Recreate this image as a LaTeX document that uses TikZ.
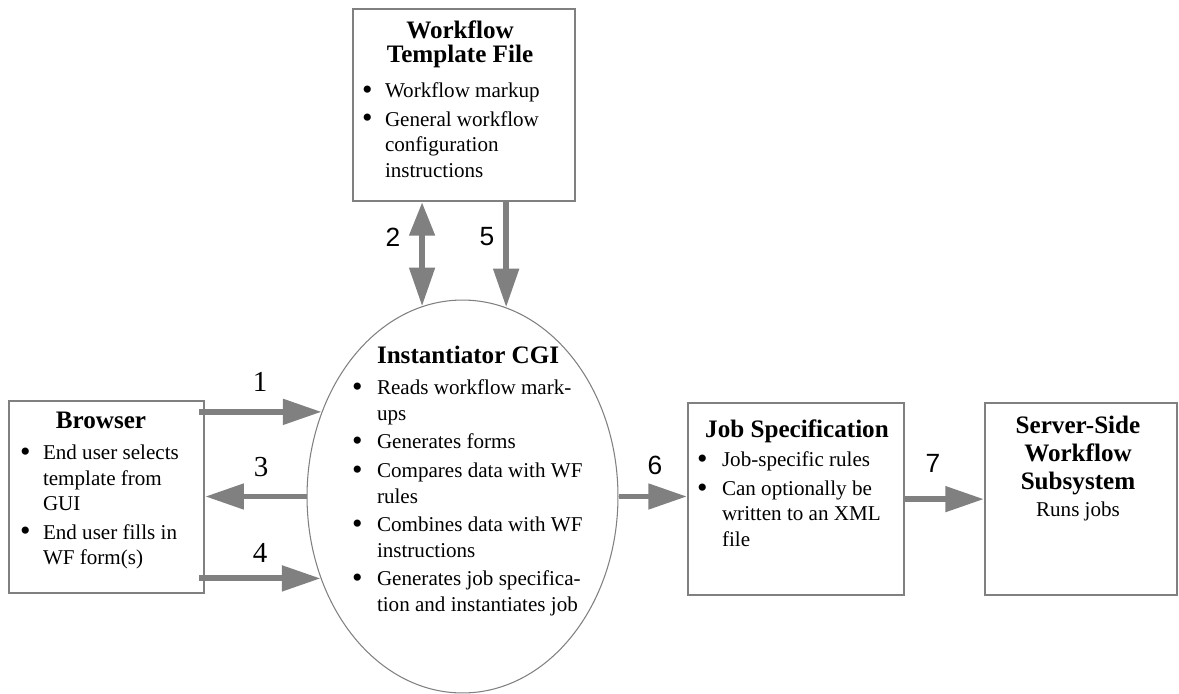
\documentclass[tikz,border=0pt]{standalone}
\usepackage{fontspec}
\setmainfont{Liberation Serif}
\newfontfamily\numsans{Liberation Sans}
\usetikzlibrary{arrows.meta,calc,shapes.geometric}
\definecolor{linegray}{RGB}{128,128,128}
\newdimen\PX \PX=0.02cm
\newlength{\bulind}
\newcommand{\bigbul}{\raisebox{-0.9pt}{\fontsize{17}{0}\selectfont\textbullet}}
\newcommand{\bitem}[1]{\par\hangindent=\bulind\hangafter=1\noindent\makebox[\bulind][l]{\bigbul}#1}
\newcommand{\bodyfont}{\fontsize{12}{14.5}\selectfont}
\newcommand{\titlefont}{\bfseries\fontsize{14.3}{14.2}\selectfont}
\begin{document}
\begin{tikzpicture}[x=0.02cm,y=-0.02cm,
  box/.style={draw=linegray,line width=1.3pt,fill=white,anchor=north west,inner sep=0pt},
  txt/.style={anchor=base west,inner sep=0pt,outer sep=0pt,text=black},
  flow/.style={draw=linegray,line width=3.4pt,-{Triangle[length=22pt,width=14pt]}},
  dflow/.style={draw=linegray,line width=3.4pt,{Triangle[length=19pt,width=14pt]}-{Triangle[length=22pt,width=14pt]}},
  numser/.style={font=\fontsize{16.5}{16.5}\selectfont,inner sep=0pt},
  numsan/.style={font=\numsans\fontsize{15}{15}\selectfont,inner sep=0pt}]

\useasboundingbox (0,0) rectangle (1179,693);

% shapes
\node[box,minimum width=4.44cm,minimum height=3.84cm] (wf) at (352,8) {};
\node[box,minimum width=3.9cm,minimum height=3.84cm] (browser) at (8,400) {};
\node[box,minimum width=4.32cm,minimum height=3.84cm] (job) at (687,402) {};
\node[box,minimum width=3.84cm,minimum height=3.84cm] (server) at (984,402) {};
\node[draw=linegray,line width=0.6pt,fill=white,ellipse,minimum width=6.22cm,minimum height=7.86cm,inner sep=0pt] (ell) at (462.5,496.5) {};

% texts
\node[txt] (wf-t) at (362,38) {\begin{minipage}[t]{196\PX}\raggedright\setlength{\parskip}{1.8pt}\setlength{\bulind}{23\PX}%
{\centering\titlefont Workflow\\Template File\par}\vspace{3.5pt}\bodyfont
\bitem{Workflow markup}\bitem{General workflow\newline configuration\newline instructions}\end{minipage}};

\node[txt] (browser-t) at (20,428) {\begin{minipage}[t]{162\PX}\raggedright\setlength{\parskip}{1.8pt}\setlength{\bulind}{23\PX}%
{\centering\titlefont Browser\par}\vspace{1.8pt}\bodyfont
\bitem{End user selects\newline template from\newline GUI}\bitem{End user fills in\newline WF form(s)}\end{minipage}};

\node[txt] (ell-t) at (352,363) {\begin{minipage}[t]{235\PX}\raggedright\setlength{\parskip}{1.8pt}\setlength{\bulind}{25\PX}%
{\titlefont\hspace*{\bulind}Instantiator CGI\par}\vspace{1.8pt}\bodyfont
\bitem{Reads workflow mark-\newline ups}\bitem{Generates forms}\bitem{Compares data with WF\newline rules}\bitem{Combines data with WF\newline instructions}\bitem{Generates job specifica-\newline tion and instantiates job}\end{minipage}};

\node[txt] (job-t) at (697,437) {\begin{minipage}[t]{200\PX}\raggedright\setlength{\parskip}{1.8pt}\setlength{\bulind}{25\PX}%
{\centering\titlefont Job Specification\par}\vspace{0.7pt}\bodyfont
\bitem{Job-specific rules}\bitem{Can optionally be\newline written to an XML\newline file}\end{minipage}};

\node[txt] (server-t) at (988,433) {\begin{minipage}[t]{180\PX}\centering
{\titlefont\fontsize{14.3}{16}\selectfont Server-Side\\Workflow\\Subsystem\par}\fontsize{12}{15.3}\selectfont Runs jobs\par\end{minipage}};

% connectors
\draw[flow] ($(browser.east |- ell.149.3)+(-6,0)$) -- (ell.149.3);
\draw[flow] (ell.west) -- (browser.east |- ell.west);
\draw[flow] ($(browser.east |- ell.210.7)+(-6,0)$) -- (ell.210.7);
\draw[dflow] (ell.102.7 |- wf.south) -- (ell.102.7);
\draw[flow] (ell.77.3 |- wf.south) -- (ell.77.3);
\draw[flow] (ell.east) -- (job.west |- ell.east);
\draw[flow] ($(job.east)+(-1,0)$) -- (server.west |- job.east);

% labels
\node[numser] (n1) at (260,382) {1};
\node[numsan] (n2) at (393,237) {2};
\node[numser] (n3) at (261,467) {3};
\node[numser] (n4) at (260,553) {4};
\node[numsan] (n5) at (487,237) {5};
\node[numsan] (n6) at (655,465) {6};
\node[numsan] (n7) at (933,463) {7};
\end{tikzpicture}
\end{document}
